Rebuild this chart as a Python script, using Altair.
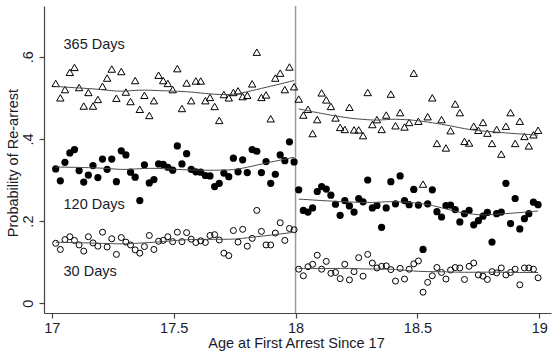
import altair as alt
import pandas as pd

# Age bins (bin centres) before and after the 18th birthday
age_before = [17.016, 17.035, 17.054, 17.074, 17.093, 17.112, 17.131, 17.150, 17.169, 17.189,
              17.208, 17.227, 17.246, 17.265, 17.285, 17.304, 17.323, 17.342, 17.361, 17.380,
              17.400, 17.419, 17.438, 17.457, 17.476, 17.496, 17.515, 17.534, 17.553, 17.572,
              17.591, 17.611, 17.630, 17.649, 17.668, 17.687, 17.706, 17.726, 17.745, 17.764,
              17.783, 17.802, 17.822, 17.841, 17.860, 17.879, 17.898, 17.917, 17.937, 17.956,
              17.975, 17.994]
age_after = [18.013, 18.032, 18.051, 18.070, 18.089, 18.107, 18.126, 18.145, 18.164, 18.183,
             18.202, 18.221, 18.240, 18.259, 18.277, 18.296, 18.315, 18.334, 18.353, 18.372,
             18.391, 18.410, 18.429, 18.447, 18.466, 18.485, 18.504, 18.523, 18.542, 18.561,
             18.580, 18.599, 18.617, 18.636, 18.655, 18.674, 18.693, 18.712, 18.731, 18.750,
             18.769, 18.787, 18.806, 18.825, 18.844, 18.863, 18.882, 18.901, 18.920, 18.939,
             18.957, 18.976, 18.995]

d365_before = [0.535, 0.50, 0.52, 0.562, 0.574, 0.525, 0.48, 0.513, 0.48, 0.496,
               0.528, 0.548, 0.57, 0.499, 0.564, 0.514, 0.491, 0.542, 0.472, 0.506,
               0.457, 0.493, 0.555, 0.542, 0.535, 0.52, 0.571, 0.474, 0.536, 0.493,
               0.541, 0.541, 0.493, 0.501, 0.479, 0.445, 0.508, 0.50, 0.513, 0.517,
               0.503, 0.506, 0.534, 0.611, 0.501, 0.507, 0.449, 0.548, 0.56, 0.52,
               0.575, 0.527]
d365_after = [0.497, 0.458, 0.472, 0.413, 0.447, 0.512, 0.495, 0.479, 0.451, 0.428,
              0.423, 0.477, 0.422, 0.422, 0.408, 0.513, 0.435, 0.447, 0.423, 0.458,
              0.509, 0.432, 0.464, 0.429, 0.44, 0.56, 0.443, 0.29, 0.454, 0.50,
              0.389, 0.447, 0.378, 0.42, 0.485, 0.464, 0.394, 0.39, 0.431, 0.421,
              0.44, 0.414, 0.389, 0.423, 0.363, 0.431, 0.464, 0.389, 0.443, 0.406,
              0.383, 0.41, 0.421]
d120_before = [0.327, 0.298, 0.343, 0.366, 0.374, 0.323, 0.295, 0.312, 0.335, 0.306,
               0.351, 0.326, 0.351, 0.296, 0.371, 0.361, 0.319, 0.307, 0.25, 0.337,
               0.293, 0.301, 0.339, 0.338, 0.331, 0.324, 0.383, 0.339, 0.364, 0.326,
               0.32, 0.319, 0.311, 0.31, 0.284, 0.292, 0.317, 0.308, 0.353, 0.32,
               0.349, 0.318, 0.374, 0.37, 0.318, 0.345, 0.292, 0.314, 0.361, 0.347,
               0.393, 0.344]
d120_after = [0.276, 0.226, 0.222, 0.232, 0.272, 0.284, 0.278, 0.263, 0.241, 0.214,
              0.25, 0.237, 0.222, 0.255, 0.247, 0.30, 0.232, 0.238, 0.185, 0.232,
              0.296, 0.242, 0.31, 0.25, 0.24, 0.277, 0.239, 0.131, 0.242, 0.276,
              0.223, 0.21, 0.238, 0.239, 0.228, 0.198, 0.218, 0.226, 0.191, 0.201,
              0.212, 0.221, 0.149, 0.218, 0.222, 0.292, 0.194, 0.255, 0.181, 0.206,
              0.218, 0.246, 0.24]
d30_before = [0.146, 0.131, 0.155, 0.162, 0.153, 0.142, 0.127, 0.162, 0.147, 0.139,
              0.173, 0.137, 0.157, 0.119, 0.16, 0.149, 0.142, 0.13, 0.122, 0.138,
              0.165, 0.131, 0.151, 0.153, 0.162, 0.15, 0.173, 0.15, 0.172, 0.156,
              0.148, 0.152, 0.148, 0.165, 0.167, 0.154, 0.122, 0.116, 0.177, 0.149,
              0.18, 0.139, 0.158, 0.226, 0.175, 0.142, 0.142, 0.171, 0.196, 0.153,
              0.182, 0.179]
d30_after = [0.083, 0.067, 0.089, 0.095, 0.117, 0.083, 0.102, 0.073, 0.075, 0.06,
             0.095, 0.057, 0.077, 0.111, 0.066, 0.119, 0.098, 0.086, 0.09, 0.091,
             0.082, 0.054, 0.085, 0.059, 0.083, 0.096, 0.103, 0.027, 0.051, 0.067,
             0.087, 0.075, 0.059, 0.081, 0.087, 0.086, 0.058, 0.09, 0.098, 0.069,
             0.066, 0.058, 0.077, 0.074, 0.086, 0.069, 0.075, 0.083, 0.045, 0.086,
             0.086, 0.083, 0.062]

labels = ["365 Days", "120 Days", "30 Days"]
label_y = [0.619, 0.229, 0.066]
label_x = [17.048, 17.048, 17.048]
x_ticks = [17, 17.5, 18, 18.5, 19]
y_ticks = [0, 0.2, 0.4, 0.6]
cutoff = [18]

rows = []
for name, before, after in [("365", d365_before, d365_after),
                            ("120", d120_before, d120_after),
                            ("30", d30_before, d30_after)]:
    for a, p in zip(age_before, before):
        rows.append({"age": a, "p": p, "series": name, "grp": name + "_b"})
    for a, p in zip(age_after, after):
        rows.append({"age": a, "p": p, "series": name, "grp": name + "_a"})
df = pd.DataFrame(rows)

TXT = "#1a1a2a"
FONT = "Liberation Sans"

xscale = alt.Scale(domain=[16.968, 19.048], nice=False, zero=False)
yscale = alt.Scale(domain=[-0.0236, 0.7234], nice=False, zero=False)

xax = alt.Axis(values=x_ticks, labelExpr="format(datum.value, '~g')", grid=False,
               title="Age at First Arrest Since 17", tickSize=5, labelPadding=14,
               labelBaseline="alphabetic", titleX=252, titleY=34.5,
               titleBaseline="alphabetic", titleAlign="center")
yax = alt.Axis(values=y_ticks,
               labelExpr="datum.value == 0 ? '0' : replace(format(datum.value, '.1f'), '0.', '.')",
               grid=False, title="Probability of Re-arrest", tickSize=5, labelAngle=-90,
               labelAlign="center", labelBaseline="alphabetic", labelPadding=6.7,
               titleAngle=-90, titleX=-27, titleY=156.5, titleAlign="center",
               titleBaseline="alphabetic")

base = alt.Chart(df)
X = alt.X("age:Q", scale=xscale, axis=xax)
Y = alt.Y("p:Q", scale=yscale, axis=yax)

rule = alt.Chart(pd.DataFrame({"age": cutoff})).mark_rule(
    color="#9a9a9a", strokeWidth=1.5).encode(x=alt.X("age:Q", scale=xscale))

tri = base.transform_filter("datum.series == '365'").mark_point(
    shape="triangle-up", filled=False, stroke="black", strokeWidth=1, size=55, opacity=1
).encode(x=X, y=Y)
dots = base.transform_filter("datum.series == '120'").mark_point(
    shape="circle", filled=True, fill="black", size=52, opacity=1
).encode(x=X, y=Y)
rings = base.transform_filter("datum.series == '30'").mark_point(
    shape="circle", filled=False, stroke="black", strokeWidth=1, size=36, opacity=1
).encode(x=X, y=Y)

fits = base.transform_loess("age", "p", groupby=["grp"], bandwidth=0.5).mark_line(
    color="#4a4a4a", strokeWidth=1
).encode(x=X, y=Y, detail="grp:N")

txt = alt.Chart(pd.DataFrame({"age": label_x, "p": label_y, "t": labels})).mark_text(
    align="left", baseline="alphabetic", fontSize=14.5, font=FONT, color=TXT
).encode(x=alt.X("age:Q", scale=xscale), y=alt.Y("p:Q", scale=yscale), text="t:N")

chart = alt.layer(rule, tri, rings, dots, fits, txt).properties(
    width=507, height=307,
    padding={"left": 44, "top": 6, "right": 4, "bottom": 40},
    autosize=alt.AutoSizeParams(type="none"),
    background="white",
).configure_view(stroke=None).configure_axis(
    labelFont=FONT, titleFont=FONT, labelFontSize=14.5, titleFontSize=14.5,
    labelColor=TXT, titleColor=TXT, titleFontWeight="normal",
    domainColor="#444444", tickColor="#444444", domainWidth=1.2, tickWidth=1.2,
)

chart.save("out.html", embed_options={"renderer": "svg", "actions": False})
